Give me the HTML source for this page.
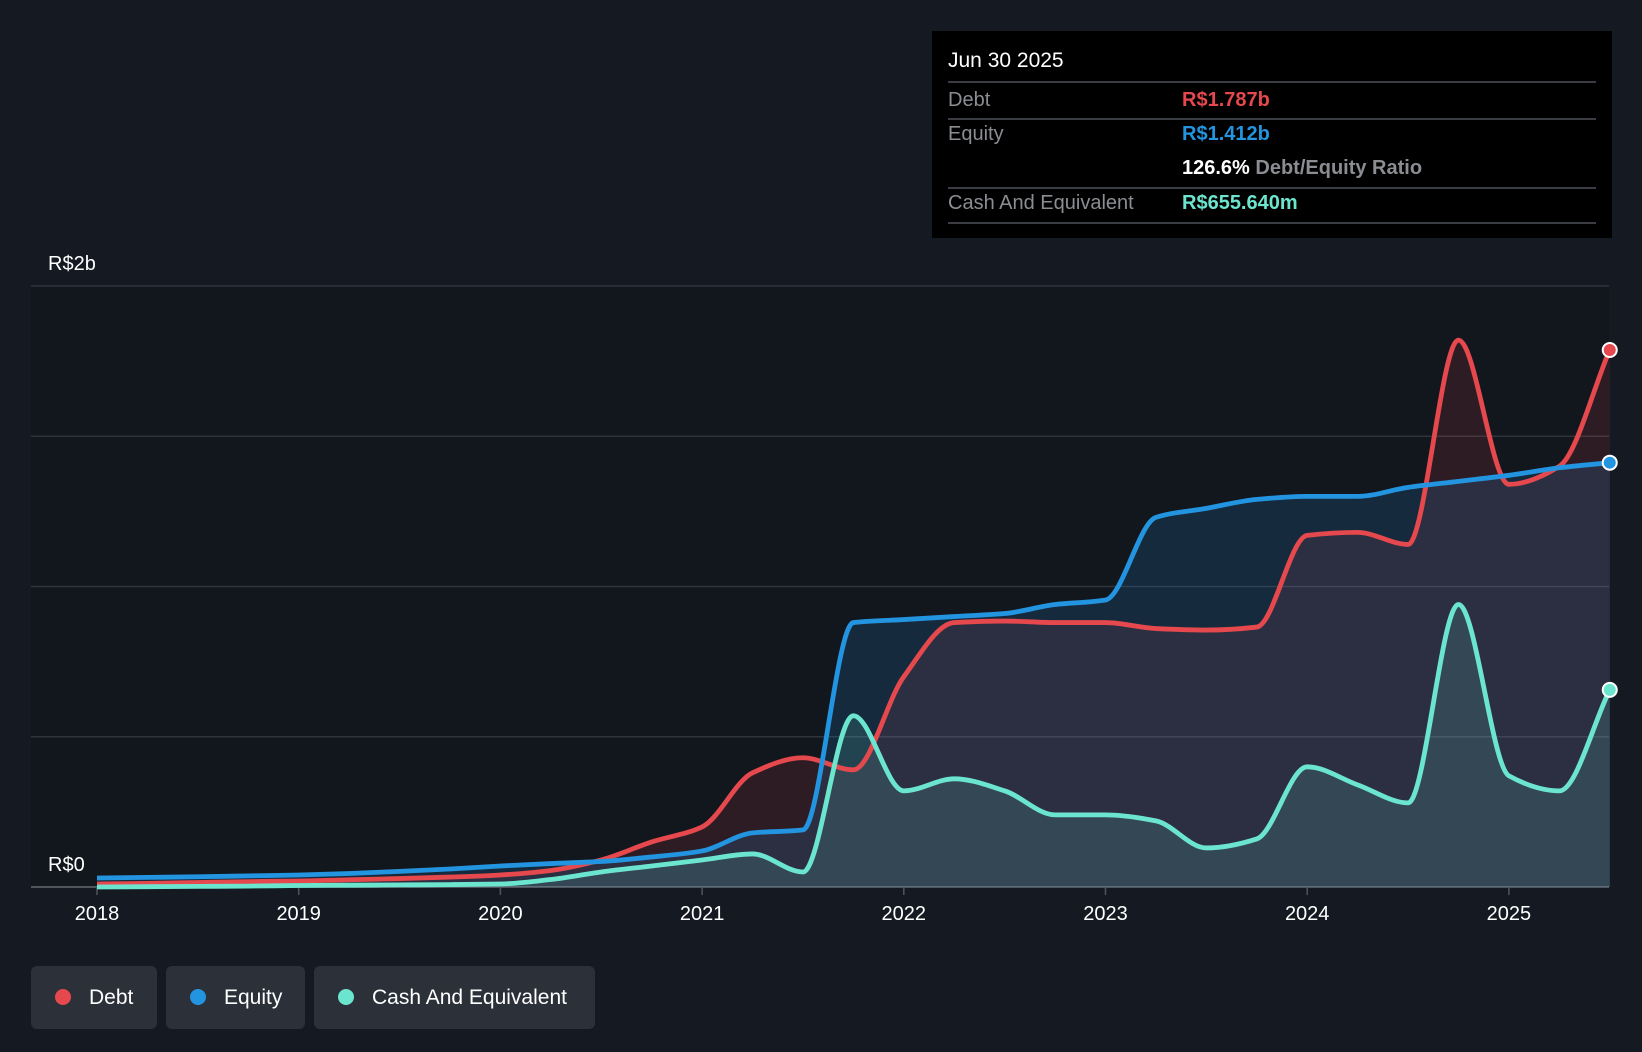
<!DOCTYPE html>
<html><head><meta charset="utf-8"><style>
body{margin:0;background:#151a22;width:1642px;height:1052px;overflow:hidden;font-family:"Liberation Sans",sans-serif;}
svg{position:absolute;left:0;top:0}
.tip{position:absolute;left:932px;top:31px;width:680px;height:207px;background:#000;color:#fff;}
.tip .row{position:absolute;left:16px;width:648px;border-bottom:2px solid #3a3d42;font-size:20px}
.lab{position:absolute;left:0;color:#8a8d92}
.val{position:absolute;left:234px;font-weight:bold}
.leg{position:absolute;top:966px;height:63px;background:#2b3039;border-radius:6px;color:#fff;font-size:21px;line-height:63px}
.leg span.d{display:inline-block;width:16px;height:16px;border-radius:50%;margin:0 18px 0 24px;vertical-align:-1px}
</style></head><body>
<svg width="1642" height="1052" id="svg"></svg>
<div class="tip">
 <div class="row" style="border:none;font-size:21px;top:18px">Jun 30 2025</div>
 <div class="row" style="top:50px;height:0;border-bottom:2px solid #3a3d42"></div>
 <div class="row" style="top:53px;height:34px"><span class="lab" style="top:5px">Debt</span><span class="val" style="top:5px;color:#e5484d">R$1.787b</span></div>
 <div class="row" style="top:89px;height:34px;border:none"><span class="lab" style="top:3px">Equity</span><span class="val" style="top:3px;color:#2394df">R$1.412b</span></div>
 <div class="row" style="top:123px;height:33px"><span class="val" style="top:3px">126.6% <span style="color:#8a8d92">Debt/Equity Ratio</span></span></div>
 <div class="row" style="top:158px;height:33px"><span class="lab" style="top:3px">Cash And Equivalent</span><span class="val" style="top:3px;color:#6ce5cf">R$655.640m</span></div>
</div>
<div class="leg" style="left:31px;width:126px"><span class="d" style="background:#e5484d"></span>Debt</div>
<div class="leg" style="left:166px;width:139px"><span class="d" style="background:#2394df"></span>Equity</div>
<div class="leg" style="left:314px;width:281px"><span class="d" style="background:#6ce5cf"></span>Cash And Equivalent</div>
<script>
const dates=[2018,2018.25,2018.5,2018.75,2019,2019.25,2019.5,2019.75,2020,2020.25,2020.5,2020.75,2021,2021.25,2021.5,2021.75,2022,2022.25,2022.5,2022.75,2023,2023.25,2023.5,2023.75,2024,2024.25,2024.5,2024.75,2025,2025.25,2025.5];
const debt=[0.01,0.012,0.015,0.018,0.02,0.024,0.028,0.033,0.04,0.055,0.09,0.15,0.2,0.38,0.43,0.39,0.7,0.88,0.885,0.88,0.88,0.86,0.855,0.865,1.17,1.18,1.14,1.82,1.34,1.4,1.787];
const equity=[0.03,0.032,0.034,0.037,0.04,0.045,0.052,0.06,0.07,0.078,0.085,0.1,0.12,0.18,0.19,0.88,0.89,0.9,0.91,0.94,0.955,1.23,1.26,1.29,1.3,1.3,1.33,1.35,1.37,1.395,1.412];
const cash=[0,0.001,0.002,0.003,0.005,0.006,0.007,0.008,0.01,0.025,0.05,0.07,0.09,0.11,0.05,0.57,0.32,0.36,0.32,0.24,0.24,0.22,0.13,0.16,0.4,0.34,0.28,0.94,0.37,0.32,0.656];
const yTicks=[0,0.5,1,1.5,2];
const years=[2018,2019,2020,2021,2022,2023,2024,2025];
const X=d=>97+(d-2018)*201.7, Y=v=>887-v*300.5;
const svg=document.getElementById('svg'),NS='http://www.w3.org/2000/svg';
function mk(t,a){const e=document.createElementNS(NS,t);for(const k in a)e.setAttribute(k,a[k]);svg.appendChild(e);return e;}
const bg=mk('rect',{x:31,y:286,width:1578,height:601,fill:'#12161d'});


yTicks.forEach(v=>{const l=mk('line',{x1:31,x2:1609,y1:Y(v),y2:Y(v),stroke:v==0?'#50555d':'#2f343c','stroke-width':v==0?2:1.5});

});
[[0,'R$0'],[2,'R$2b']].forEach(([v,s])=>{const t=mk('text',{x:48,y:Y(v)-16,fill:'#fff','font-size':20});t.textContent=s;

});
years.forEach(y=>{mk('line',{x1:X(y),x2:X(y),y1:887,y2:895,stroke:'#50555d','stroke-width':1.5});
const t=mk('text',{x:X(y),y:920,fill:'#fff','font-size':20,'text-anchor':'middle'});t.textContent=y;

});
function path(vals){const p=vals.map((v,i)=>[X(dates[i]),Y(v)]);const n=p.length;
const m=[];const d=[];for(let i=0;i<n-1;i++)d.push((p[i+1][1]-p[i][1])/(p[i+1][0]-p[i][0]));
for(let i=0;i<n;i++){if(i==0)m.push(d[0]);else if(i==n-1)m.push(d[n-2]);else m.push(d[i-1]*d[i]<=0?0:2/(1/d[i-1]+1/d[i]));}
let s='M'+p[0][0]+','+p[0][1];for(let i=0;i<n-1;i++){const h=(p[i+1][0]-p[i][0])/3;
s+=`C${p[i][0]+h},${p[i][1]+m[i]*h} ${p[i+1][0]-h},${p[i+1][1]-m[i+1]*h} ${p[i+1][0]},${p[i+1][1]}`;}return s;}
const series=[['debt',debt,'#e5484d','rgba(229,72,77,0.13)'],['equity',equity,'#2394df','rgba(35,148,223,0.16)'],['cash',cash,'#6ce5cf','rgba(108,229,207,0.14)']];
series.forEach(([n,v,c,f])=>{const a=mk('path',{d:path(v)+`L${X(2025.5)},887L97,887Z`,fill:f});

});
series.forEach(([n,v,c])=>{const l=mk('path',{d:path(v),fill:'none',stroke:c,'stroke-width':4.8});


const e=mk('circle',{cx:X(dates[dates.length-1]),cy:Y(v[v.length-1]),r:7,fill:c,stroke:'#fff','stroke-width':2});

});
</script>
</body></html>
